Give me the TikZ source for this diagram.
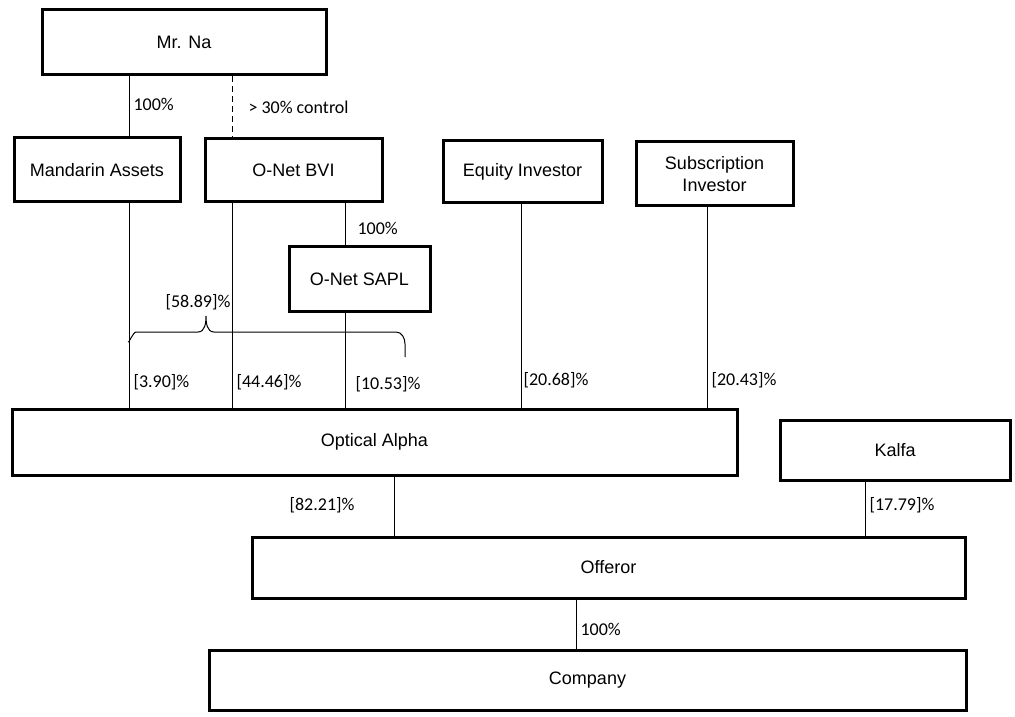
\documentclass[tikz,border=0pt]{standalone}
\usepackage{fontspec}
\setmainfont{Liberation Sans}
\newfontfamily\lblfont{Carlito}
\usetikzlibrary{calc,positioning}

\begin{document}
\begin{tikzpicture}[x=0.5pt, y=-0.5pt, lbl/.style={inner sep=2pt, font=\lblfont\fontsize{9}{11}\selectfont}]
\tikzstyle{box}=[rectangle, draw, line width=1.5pt, inner sep=0pt, align=center, font=\fontsize{9}{11}\selectfont]
\tikzstyle{lnk}=[line width=0.5pt]
\useasboundingbox (0,0) rectangle (1015,716);
% boxes
\node[box, minimum width=142pt, minimum height=32.5pt] (mrna) at (184,42.5) {Mr. Na};
\node[box, minimum width=83pt, minimum height=32pt] (mandarin) at (97,170) {Mandarin Assets};
\node[box, minimum width=88.5pt, minimum height=31.5pt] (bvi) at (293.5,170.5) {O-Net BVI};
\node[box, minimum width=79.5pt, minimum height=31pt] (equity) at (522.5,172) {Equity Investor};
\node[box, minimum width=78.5pt, minimum height=32pt] (subscr) at (714.5,174) {Subscription\\Investor};
\node[box, minimum width=70.5pt, minimum height=32pt] (sapl) at (359.5,279) {O-Net SAPL};
\node[box, minimum width=362.5pt, minimum height=33pt] (alpha) at (374.5,442) {Optical Alpha};
\node[box, minimum width=115pt, minimum height=30pt] (kalfa) at (895,450) {Kalfa};
\node[box, minimum width=356.5pt, minimum height=30.5pt] (offeror) at (608.5,567.5) {Offeror};
\node[box, minimum width=378.5pt, minimum height=30pt] (company) at (587.5,680) {Company};
% x positions of the connectors
\coordinate (mandX) at (129,0);
\coordinate (bviX) at (232,0);
\coordinate (saplX) at (345,0);
\coordinate (eqX) at (521,0);
\coordinate (subX) at (707,0);
\coordinate (offX) at (394,0);
\coordinate (kalX) at (865,0);
\coordinate (coX) at (576,0);
% connectors
\draw[lnk] (mandX |- mrna.south) -- node[lbl, right, pos=0.46]{100\%} (mandX |- mandarin.north);
\draw[lnk, densely dashed] (bviX |- mrna.south) -- node[lbl, right, xshift=6pt, pos=0.5]{> 30\% control} (bviX |- bvi.north);
\draw[lnk] (saplX |- bvi.south) -- node[lbl, right, xshift=4pt, pos=0.6]{100\%} (saplX |- sapl.north);
\draw[lnk] (mandX |- mandarin.south) -- node[lbl, right, pos=0.874]{[3.90]\%} (mandX |- alpha.north);
\draw[lnk] (bviX |- bvi.south) -- node[lbl, right, pos=0.874]{[44.46]\%} (bviX |- alpha.north);
\draw[lnk] (saplX |- sapl.south) -- node[lbl, right, xshift=3pt, pos=0.755]{[10.53]\%} (saplX |- alpha.north);
\draw[lnk] (eqX |- equity.south) -- node[lbl, right, xshift=-1pt, pos=0.864]{[20.68]\%} (eqX |- alpha.north);
\draw[lnk] (subX |- subscr.south) -- node[lbl, right, pos=0.862]{[20.43]\%} (subX |- alpha.north);
\draw[lnk] (offX |- alpha.south) -- node[lbl, left, xshift=-17.5pt, pos=0.48]{[82.21]\%} (offX |- offeror.north);
\draw[lnk] (kalX |- kalfa.south) -- node[lbl, right, pos=0.44]{[17.79]\%} (kalX |- offeror.north);
\draw[lnk] (coX |- offeror.south) -- node[lbl, right, pos=0.615]{100\%} (coX |- company.north);
% brace over the three holdings
\draw[lnk] (128,342) to[out=-90,in=180,looseness=0.6] (136,332) -- (198,332) to[out=0,in=-90] (206,316)
  to[out=-90,in=180] (214,332) -- (396,332) to[out=0,in=90] (405,344) -- (405,357);
\node[lbl] (total) at (198,302) {[58.89]\%};
\end{tikzpicture}
\end{document}
